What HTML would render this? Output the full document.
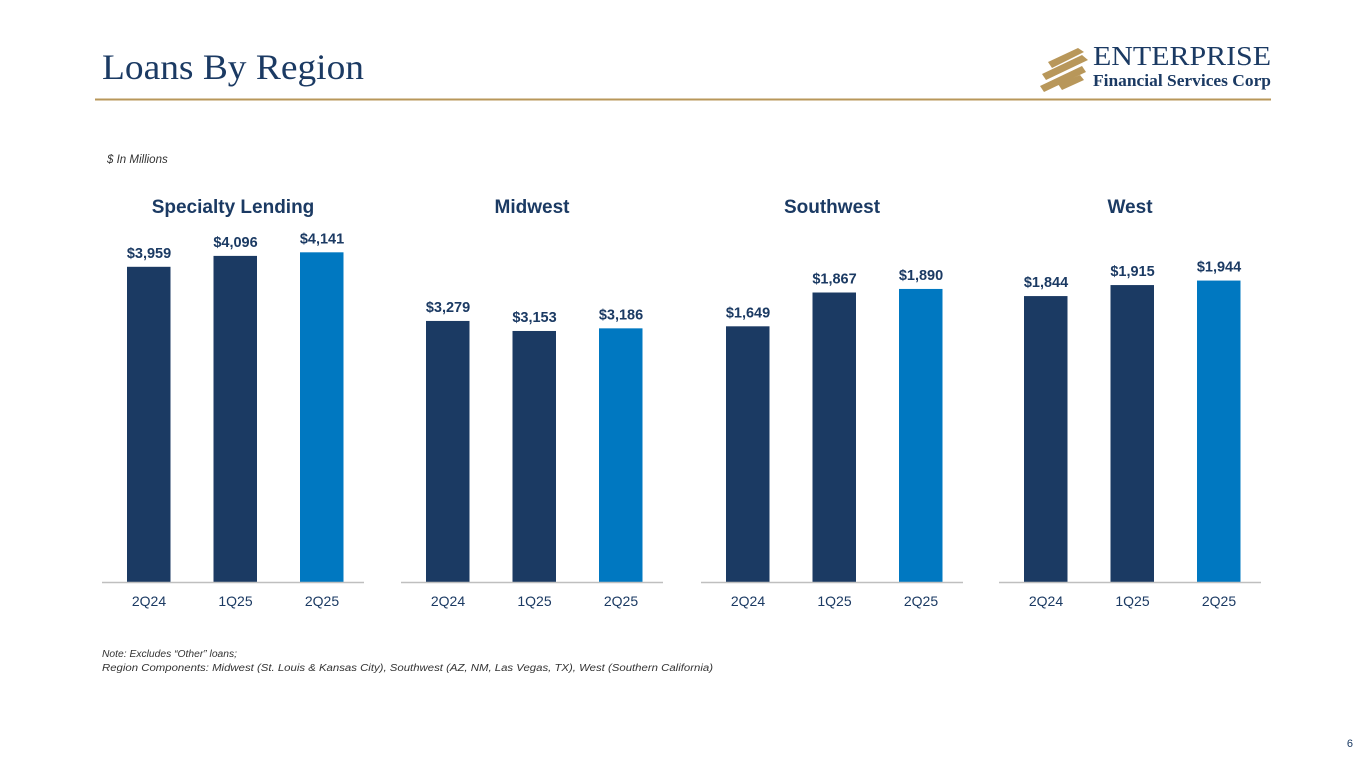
<!DOCTYPE html>
<html><head><meta charset="utf-8">
<style>
body{margin:0;width:1365px;height:768px;background:#fff;overflow:hidden;font-family:"Liberation Sans",sans-serif;}
svg{position:absolute;left:0;top:0}
</style></head>
<body>
<svg id="chart" width="1365" height="768" xmlns="http://www.w3.org/2000/svg">
<text x="102" y="79" font-family="Liberation Serif, serif" font-size="36" fill="#1b3a63" textLength="262" lengthAdjust="spacingAndGlyphs">Loans By Region</text>
<line x1="95" y1="99.5" x2="1271" y2="99.5" stroke="#b8975a" stroke-width="2"/>
<g>
<polygon points="1048,62 1078,48 1084,52 1052,68" fill="#b8975a"/>
<polygon points="1042,74 1082,55 1088,60 1046,80" fill="#b8975a"/>
<polygon points="1040,86 1082,66 1086,72 1044,92" fill="#b8975a"/>
<polygon points="1058,84 1080,75 1084,80 1062,90" fill="#b8975a"/>
<text x="1093" y="65" font-family="Liberation Serif, serif" font-size="27" fill="#1b3a63" textLength="178" lengthAdjust="spacingAndGlyphs">ENTERPRISE</text>
<text x="1093" y="86" font-family="Liberation Serif, serif" font-size="17" font-weight="bold" fill="#1b3a63" textLength="178" lengthAdjust="spacingAndGlyphs">Financial Services Corp</text>
</g>
<text x="107" y="163" font-size="11.5" font-style="italic" fill="#333">$ In Millions</text>
<text x="102" y="657" font-size="10" font-style="italic" fill="#333" textLength="135" lengthAdjust="spacingAndGlyphs">Note: Excludes “Other” loans;</text>
<text x="102" y="671" font-size="10" font-style="italic" fill="#333" textLength="611" lengthAdjust="spacingAndGlyphs">Region Components: Midwest (St. Louis &amp; Kansas City), Southwest (AZ, NM, Las Vegas, TX), West (Southern California)</text>
<text x="1353" y="747" font-size="11" fill="#1b3a63" text-anchor="end">6</text>
</svg>
<script>
const regions=["Specialty Lending","Midwest","Southwest","West"];
const periods=["2Q24","1Q25","2Q25"];
const specialtyValues=[3959,4096,4141];
const midwestValues=[3279,3153,3186];
const southwestValues=[1649,1867,1890];
const westValues=[1844,1915,1944];
const seriesValues=[specialtyValues,midwestValues,southwestValues,westValues];
const regionMax=[5200,5200,2670,2670];

const svg=document.getElementById('chart');
const NS='http://www.w3.org/2000/svg';
const panelLeft=[102,401,701,999], panelW=262, baseY=582, plotH=414;
function mk(tag,attrs){const e=document.createElementNS(NS,tag);for(const k in attrs)e.setAttribute(k,attrs[k]);svg.appendChild(e);return e;}
regions.forEach((r,i)=>{
  const x0=panelLeft[i];
  const xs=j=>x0+25+j*86.5;
  const ys=v=>baseY-v/regionMax[i]*plotH;
  const t=mk('text',{x:x0+131,y:213,'text-anchor':'middle','font-size':19,'font-weight':'bold',fill:'#1b3a63'});
  t.textContent=r;
  
  
  seriesValues[i].forEach((v,j)=>{
    const b=mk('rect',{x:xs(j),y:ys(v),width:43.5,height:baseY-ys(v),fill:j==2?'#0078c1':'#1b3a63'});
    
    
    const l=mk('text',{x:xs(j)+22,y:ys(v)-9,'text-anchor':'middle','font-size':14.5,'font-weight':'bold',fill:'#1b3a63'});
    l.textContent='$'+v.toLocaleString('en-US');
    
    
    const c=mk('text',{x:xs(j)+22,y:606,'text-anchor':'middle','font-size':14,fill:'#1b3a63'});
    c.textContent=periods[j];
    
    
  });
  const ax=mk('line',{x1:x0,y1:baseY+0.5,x2:x0+panelW,y2:baseY+0.5,stroke:'#bfbfbf','stroke-width':1.5});
  
  
});
</script>
</body></html>
